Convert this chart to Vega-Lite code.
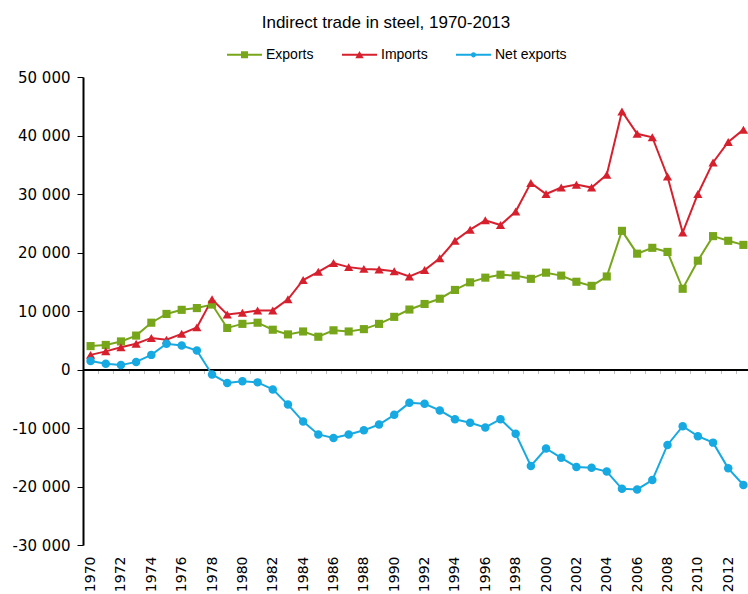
{
  "$schema": "https://vega.github.io/schema/vega-lite/v6.json",
  "width": 668,
  "height": 468,
  "autosize": {"type": "none"},
  "padding": {"left": 83, "top": 77, "right": 0, "bottom": 49},
  "background": "white",
  "title": {
    "text": "Indirect trade in steel, 1970-2013",
    "font": "Liberation Sans",
    "fontSize": 17,
    "fontWeight": "normal",
    "color": "#000000",
    "anchor": "middle",
    "frame": "group",
    "dx": -31,
    "offset": 5
  },
  "config": {"view": {"stroke": null}},
  "data": {
    "values": [
      {"year": 1970, "Exports": 4000, "Imports": 2500, "Net exports": 1450},
      {"year": 1971, "Exports": 4200, "Imports": 3100, "Net exports": 1000},
      {"year": 1972, "Exports": 4800, "Imports": 3800, "Net exports": 750},
      {"year": 1973, "Exports": 5800, "Imports": 4400, "Net exports": 1300},
      {"year": 1974, "Exports": 8000, "Imports": 5400, "Net exports": 2500},
      {"year": 1975, "Exports": 9500, "Imports": 5100, "Net exports": 4400},
      {"year": 1976, "Exports": 10200, "Imports": 6100, "Net exports": 4100},
      {"year": 1977, "Exports": 10500, "Imports": 7200, "Net exports": 3250},
      {"year": 1978, "Exports": 11100, "Imports": 12000, "Net exports": -850},
      {"year": 1979, "Exports": 7100, "Imports": 9400, "Net exports": -2300},
      {"year": 1980, "Exports": 7800, "Imports": 9700, "Net exports": -2000},
      {"year": 1981, "Exports": 8000, "Imports": 10100, "Net exports": -2200},
      {"year": 1982, "Exports": 6800, "Imports": 10100, "Net exports": -3400},
      {"year": 1983, "Exports": 6000, "Imports": 12000, "Net exports": -6000},
      {"year": 1984, "Exports": 6500, "Imports": 15300, "Net exports": -8900},
      {"year": 1985, "Exports": 5600, "Imports": 16700, "Net exports": -11100},
      {"year": 1986, "Exports": 6700, "Imports": 18200, "Net exports": -11700},
      {"year": 1987, "Exports": 6500, "Imports": 17500, "Net exports": -11100},
      {"year": 1988, "Exports": 6900, "Imports": 17200, "Net exports": -10400},
      {"year": 1989, "Exports": 7800, "Imports": 17100, "Net exports": -9400},
      {"year": 1990, "Exports": 9000, "Imports": 16800, "Net exports": -7750},
      {"year": 1991, "Exports": 10250, "Imports": 15900, "Net exports": -5700},
      {"year": 1992, "Exports": 11200, "Imports": 17000, "Net exports": -5850},
      {"year": 1993, "Exports": 12100, "Imports": 19000, "Net exports": -7000},
      {"year": 1994, "Exports": 13600, "Imports": 22000, "Net exports": -8500},
      {"year": 1995, "Exports": 14900, "Imports": 23900, "Net exports": -9100},
      {"year": 1996, "Exports": 15700, "Imports": 25500, "Net exports": -9900},
      {"year": 1997, "Exports": 16200, "Imports": 24700, "Net exports": -8500},
      {"year": 1998, "Exports": 16050, "Imports": 27000, "Net exports": -11000},
      {"year": 1999, "Exports": 15500, "Imports": 31900, "Net exports": -16500},
      {"year": 2000, "Exports": 16550, "Imports": 30000, "Net exports": -13500},
      {"year": 2001, "Exports": 16050, "Imports": 31100, "Net exports": -15100},
      {"year": 2002, "Exports": 15000, "Imports": 31600, "Net exports": -16650},
      {"year": 2003, "Exports": 14300, "Imports": 31100, "Net exports": -16800},
      {"year": 2004, "Exports": 15900, "Imports": 33300, "Net exports": -17450},
      {"year": 2005, "Exports": 23700, "Imports": 44100, "Net exports": -20400},
      {"year": 2006, "Exports": 19800, "Imports": 40300, "Net exports": -20500},
      {"year": 2007, "Exports": 20800, "Imports": 39700, "Net exports": -18900},
      {"year": 2008, "Exports": 20100, "Imports": 33000, "Net exports": -12900},
      {"year": 2009, "Exports": 13800, "Imports": 23400, "Net exports": -9700},
      {"year": 2010, "Exports": 18600, "Imports": 30000, "Net exports": -11400},
      {"year": 2011, "Exports": 22800, "Imports": 35400, "Net exports": -12500},
      {"year": 2012, "Exports": 22000, "Imports": 38900, "Net exports": -16900},
      {"year": 2013, "Exports": 21300, "Imports": 41000, "Net exports": -19750}
    ]
  },
  "transform": [{"fold": ["Exports", "Imports", "Net exports"], "as": ["series", "value"]}],
  "encoding": {
    "y": {
      "field": "value",
      "type": "quantitative",
      "scale": {"domain": [-30000, 50000], "nice": false},
      "axis": {
        "title": null,
        "values": [-30000, -20000, -10000, 0, 10000, 20000, 30000, 40000, 50000],
        "labelExpr": "replace(replace(format(datum.value, ','), regexp(',', 'g'), ' '), '\u2212', '-')",
        "grid": false,
        "domainColor": "#000000",
        "domainWidth": 2,
        "tickColor": "#000000",
        "tickSize": 6,
        "tickWidth": 1,
        "labelFont": "DejaVu Sans",
        "labelFontSize": 15,
        "labelColor": "#000000",
        "labelPadding": 7
      }
    },
    "color": {
      "field": "series",
      "type": "nominal",
      "scale": {"domain": ["Exports", "Imports", "Net exports"], "range": ["#78A61B", "#D7202E", "#17A9E1"]},
      "legend": {
        "orient": "none",
        "legendX": 144,
        "legendY": -40,
        "direction": "horizontal",
        "title": null,
        "labelFont": "Liberation Sans",
        "labelFontSize": 14,
        "labelColor": "#000000",
        "symbolSize": 1225,
        "symbolOpacity": 1,
        "symbolStrokeWidth": 0,
        "labelOffset": 4,
        "columnPadding": 28
      }
    }
  },
  "layer": [
    {
      "mark": {"type": "point", "filled": true, "size": 1225, "opacity": 0},
      "encoding": {
        "x": {"field": "year", "type": "quantitative", "scale": {"domain": [1969.5, 2013.5], "nice": false, "zero": false}, "axis": null},
        "shape": {
          "field": "series",
          "type": "nominal",
          "scale": {
            "domain": ["Exports", "Imports", "Net exports"],
            "range": [
              "M-1,-0.057H1V0.057H-1ZM-0.2,-0.2H0.2V0.2H-0.2Z",
              "M-1,-0.057H1V0.057H-1ZM0,-0.21L0.24,0.2H-0.24Z",
              "M-1,-0.057H1V0.057H-1ZM-0.15,0A0.15,0.15,0,1,1,0.15,0A0.15,0.15,0,1,1,-0.15,0Z"
            ]
          },
          "legend": null
        }
      }
    },
    {
      "mark": {"type": "line", "strokeWidth": 2},
      "encoding": {
        "x": {
          "field": "year",
          "type": "quantitative",
          "scale": {"domain": [1969.5, 2013.5], "nice": false, "zero": false},
          "axis": {
            "title": null,
            "values": [1970, 1972, 1974, 1976, 1978, 1980, 1982, 1984, 1986, 1988, 1990, 1992, 1994, 1996, 1998, 2000, 2002, 2004, 2006, 2008, 2010, 2012],
            "format": "d",
            "labelAngle": -90,
            "labelAlign": "right",
            "labelBaseline": "middle",
            "ticks": false,
            "domain": false,
            "grid": false,
            "labelPadding": 11,
            "labelFont": "DejaVu Sans",
            "labelFontSize": 14,
            "labelColor": "#000000",
            "labelOverlap": false,
            "labelFlush": false
          }
        }
      }
    },
    {
      "transform": [{"filter": "datum.series === 'Exports'"}],
      "mark": {"type": "point", "filled": true, "opacity": 1, "size": 66, "shape": "square"},
      "encoding": {
        "x": {
          "field": "year",
          "type": "quantitative",
          "scale": {"domain": [1969.5, 2013.5], "nice": false, "zero": false},
          "axis": {
            "title": null,
            "values": [1970.5, 1971.5, 1972.5, 1973.5, 1974.5, 1975.5, 1976.5, 1977.5, 1978.5, 1979.5, 1980.5, 1981.5, 1982.5, 1983.5, 1984.5, 1985.5, 1986.5, 1987.5, 1988.5, 1989.5, 1990.5, 1991.5, 1992.5, 1993.5, 1994.5, 1995.5, 1996.5, 1997.5, 1998.5, 1999.5, 2000.5, 2001.5, 2002.5, 2003.5, 2004.5, 2005.5, 2006.5, 2007.5, 2008.5, 2009.5, 2010.5, 2011.5, 2012.5],
            "labels": false,
            "grid": false,
            "domainColor": "#000000",
            "domainWidth": 2,
            "tickColor": "#BFBFBF",
            "tickSize": -4,
            "tickWidth": 1,
            "offset": -292.5
          }
        }
      }
    },
    {
      "transform": [{"filter": "datum.series === 'Imports'"}],
      "mark": {"type": "point", "filled": true, "opacity": 1, "size": 85, "shape": "triangle-up"},
      "encoding": {
        "x": {"field": "year", "type": "quantitative", "scale": {"domain": [1969.5, 2013.5], "nice": false, "zero": false}, "axis": null}
      }
    },
    {
      "transform": [{"filter": "datum.series === 'Net exports'"}],
      "mark": {"type": "point", "filled": true, "opacity": 1, "size": 72, "shape": "circle"},
      "encoding": {
        "x": {"field": "year", "type": "quantitative", "scale": {"domain": [1969.5, 2013.5], "nice": false, "zero": false}, "axis": null}
      }
    }
  ],
  "resolve": {"axis": {"x": "independent"}}
}
